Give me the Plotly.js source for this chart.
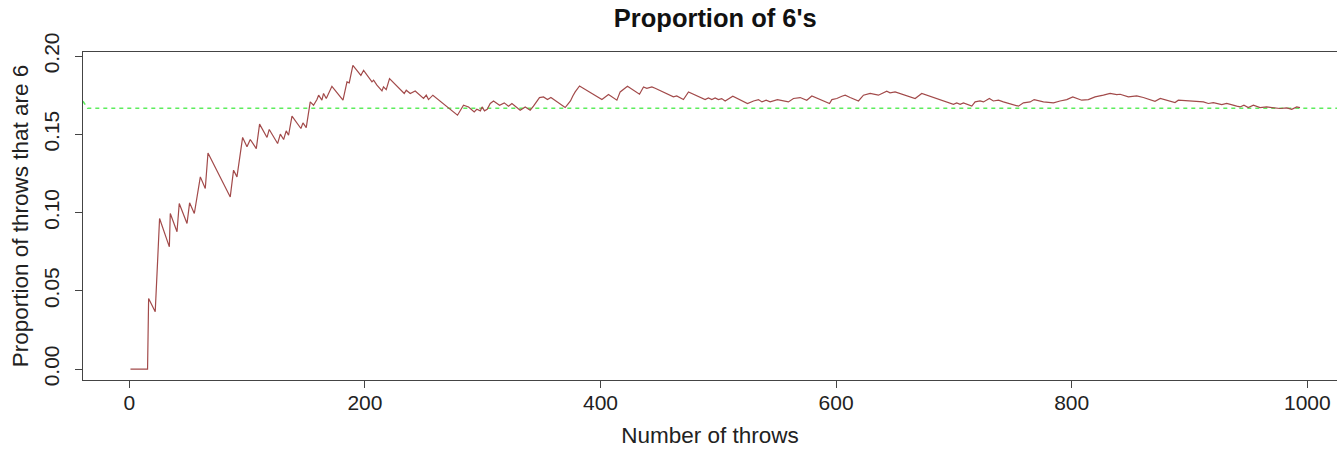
<!DOCTYPE html>
<html>
<head>
<meta charset="utf-8">
<script src="https://cdn.plot.ly/plotly-3.0.1.min.js"></script>
<style>html,body{margin:0;padding:0;background:#fff;}#chart{width:1337px;height:449px;}</style>
</head>
<body>
<div id="chart"></div>
<script>
// Number of throws (vertices of the running proportion)
const throws = [1,15.5,16.4,22,24,25.7,34,34.8,40.5,42.4,49,51.2,55.2,57.7,60.3,64.5,66.8,85.7,88.5,91.4,96.2,99.9,102.7,107.8,110.6,116.9,118.8,125.9,128.2,131,133.2,135.2,138.1,145.7,147.4,150.2,153.6,156.4,159.3,160.7,163.5,164.9,167.2,172,181.4,184.8,186.7,189.8,196.6,198.9,206,207.4,210.2,214.5,215.8,218.1,220.9,233.4,235.1,238.5,242.7,249.8,252.1,254,257.7,278.6,283.7,288,292.8,295,298,299.5,301.5,303.8,306.4,309.2,314.3,318.3,321.9,324.8,331.8,336.1,340.3,343.1,348.2,351.6,355,357.9,370,372,374.5,376.5,378.5,382.2,401.2,406.8,413.9,416.7,422.9,433.1,436.5,439.3,443.6,446.4,461.9,464.7,470.4,474.7,488.8,491.6,494.5,497.3,500.1,502.9,505.8,512.3,524.8,529.9,534.1,537,540.6,544,550.2,559.5,563.8,569.5,575.1,579.4,586.4,594.4,596.4,600.6,604.9,607.7,611.9,619,623.2,628.9,635.9,643,645.8,650.1,667.1,672.7,699.6,702.4,705.3,708.1,715.2,718,722.2,725.1,730.1,733.5,737.8,742,754.8,759,764.7,768.1,776,781.6,784.5,790.1,795.8,800.9,808.5,814.1,819.8,826.9,832.6,838.2,841.1,848.1,855.2,860.8,870.7,875.2,882.3,887.7,890.5,897.7,906.2,911.8,916,920.2,927.4,931.6,940.1,942.9,946.2,949.9,954.2,959.9,965.5,971.2,976.9,982.5,986.8,991,993.8];
// Proportion of throws that are 6
const proportion = [0,0,0.0451,0.0366,0.0685,0.0962,0.0781,0.0994,0.0877,0.1058,0.0930,0.1062,0.0994,0.1118,0.1228,0.1154,0.1381,0.1100,0.1271,0.1228,0.1480,0.1420,0.1467,0.1409,0.1565,0.1480,0.1531,0.1441,0.1501,0.1467,0.1522,0.1494,0.1616,0.1537,0.1573,0.1543,0.1707,0.1686,0.1722,0.1750,0.1718,0.1761,0.1729,0.1807,0.1718,0.1835,0.1829,0.1941,0.1877,0.1909,0.1835,0.1846,0.1814,0.1777,0.1803,0.1786,0.1856,0.1761,0.1782,0.1761,0.1777,0.1729,0.1750,0.1722,0.1750,0.1622,0.1686,0.1675,0.1643,0.1660,0.1650,0.1675,0.1650,0.1660,0.1697,0.1713,0.1686,0.1701,0.1680,0.1697,0.1654,0.1675,0.1654,0.1680,0.1735,0.1739,0.1722,0.1735,0.1671,0.1690,0.1713,0.1745,0.1771,0.1809,0.1722,0.1754,0.1718,0.1771,0.1807,0.1756,0.1803,0.1794,0.1803,0.1794,0.1739,0.1745,0.1722,0.1771,0.1722,0.1733,0.1722,0.1733,0.1722,0.1728,0.1713,0.1743,0.1697,0.1713,0.1722,0.1707,0.1718,0.1707,0.1722,0.1707,0.1729,0.1735,0.1718,0.1745,0.1722,0.1697,0.1722,0.1729,0.1743,0.1750,0.1735,0.1713,0.1750,0.1761,0.1750,0.1775,0.1765,0.1771,0.1729,0.1761,0.1692,0.1701,0.1692,0.1701,0.1680,0.1707,0.1713,0.1707,0.1729,0.1713,0.1718,0.1707,0.1680,0.1701,0.1707,0.1722,0.1707,0.1701,0.1701,0.1713,0.1722,0.1739,0.1718,0.1722,0.1739,0.1750,0.1761,0.1754,0.1756,0.1739,0.1745,0.1735,0.1711,0.1729,0.1713,0.1703,0.1718,0.1713,0.1707,0.1707,0.1697,0.1703,0.1690,0.1697,0.1680,0.1675,0.1686,0.1671,0.1686,0.1671,0.1675,0.1671,0.1665,0.1669,0.1660,0.1675,0.1671];
// Reference line (green)
const refX = [-39.3, -35.4, 1030];
const refY = [0.1711, 0.1667, 0.1667];
// Tick labels
const xTicks = [0, 200, 400, 600, 800, 1000];
const yTicks = [0.00, 0.05, 0.10, 0.15, 0.20];
const yTickText = ["0.00", "0.05", "0.10", "0.15", "0.20"];

const font = 'Liberation Sans, Arial, Helvetica, sans-serif';

const traces = [
  {x: refX, y: refY, type: 'scatter', mode: 'lines', hoverinfo: 'skip',
   line: {color: '#5ded5d', width: 1.5, dash: '4px,4px'}, cliponaxis: true},
  {x: throws, y: proportion, type: 'scatter', mode: 'lines',
   line: {color: '#a24a4a', width: 1.2}}
];

const axisCommon = {
  showgrid: false, zeroline: false, showline: true, linecolor: '#444', linewidth: 1,
  ticks: 'outside', ticklen: 7, tickcolor: '#444', tickwidth: 1,
  tickfont: {family: font, size: 21, color: '#222'}
};

const layout = {
  width: 1337, height: 449,
  margin: {l: 83, r: 0, t: 52, b: 69},
  paper_bgcolor: '#fff', plot_bgcolor: '#fff',
  showlegend: false,
  title: {text: "<b>Proportion of 6's</b>", font: {family: font, size: 25.5, color: '#111'},
          x: 0.535, xref: 'container', xanchor: 'center', y: 0.96, yref: 'container', yanchor: 'middle'},
  xaxis: Object.assign({}, axisCommon, {
    range: [-39.3, 1025.2], tickvals: xTicks, ticktext: xTicks.map(String), mirror: true,
    ticklabelstandoff: -3,
    title: {text: 'Number of throws', font: {family: font, size: 22.5, color: '#222'}, standoff: 14}
  }),
  yaxis: Object.assign({}, axisCommon, {
    range: [-0.0070, 0.2026], tickvals: yTicks, ticktext: yTickText, tickangle: -90,
    ticklabelstandoff: 8,
    title: {text: 'Proportion of throws that are 6', font: {family: font, size: 22.5, color: '#222'}, standoff: 4}
  })
};

Plotly.newPlot('chart', traces, layout, {staticPlot: true, displayModeBar: false});
</script>
</body>
</html>
